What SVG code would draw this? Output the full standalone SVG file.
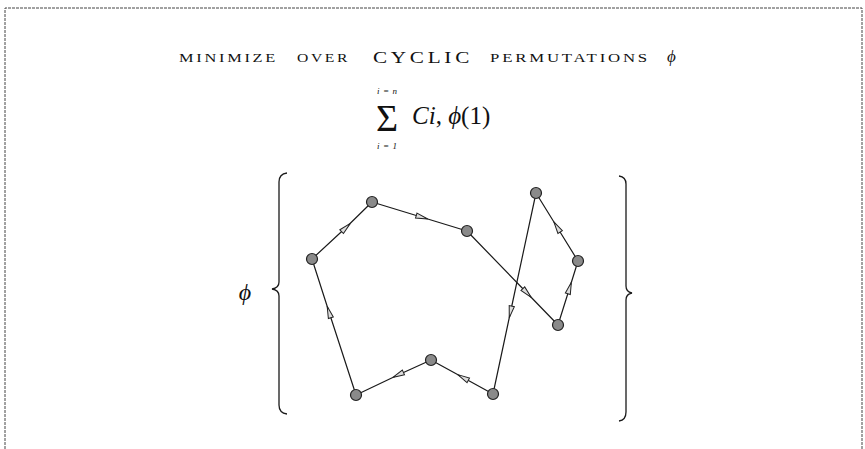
<svg xmlns="http://www.w3.org/2000/svg" width="865" height="449" viewBox="0 0 865 449">
<style>
.t{font-family:"Liberation Serif","DejaVu Serif",serif;fill:#111}
.it{font-style:italic}
.sc{font-size:12px;letter-spacing:2px}
.e{fill:none;stroke:#1a1a1a;stroke-width:1.2;marker-mid:url(#arr)}
.n{fill:#8a8a8a;stroke:#222;stroke-width:1.2}
.br{fill:none;stroke:#1a1a1a;stroke-width:1.3}
.fr{fill:none;stroke:#444;stroke-width:1;stroke-dasharray:3 1}
</style>
<defs>
<marker id="arr" markerUnits="userSpaceOnUse" viewBox="-7 -4 14 8" markerWidth="14" markerHeight="8" orient="auto">
<path d="M-6,-2.6 L6,0 L-6,2.6 Z" fill="#ddd" stroke="#222" stroke-width="1"/>
</marker>
</defs>
<g id="frame">
<path class="fr" d="M5,449 L5,8 L862,8 L862,449"/>
</g>
<g id="title">
<text class="t sc" x="179" y="62" textLength="99" lengthAdjust="spacingAndGlyphs">MINIMIZE</text>
<text class="t sc" x="297" y="62" textLength="53" lengthAdjust="spacingAndGlyphs">OVER</text>
<text class="t" x="373" y="62.5" font-size="17" letter-spacing="3" textLength="100" lengthAdjust="spacingAndGlyphs">CYCLIC</text>
<text class="t sc" x="490" y="62" textLength="160" lengthAdjust="spacingAndGlyphs">PERMUTATIONS</text>
<text class="t it" x="667" y="62" font-size="17">ϕ</text>
</g>
<g id="formula">
<text class="t it" x="377" y="94" font-size="9" textLength="20" lengthAdjust="spacing">i = n</text>
<text class="t" x="376" y="131" font-size="38">Σ</text>
<text class="t it" x="377" y="149" font-size="9" textLength="20" lengthAdjust="spacing">i = 1</text>
<text class="t it" x="412" y="124" font-size="25">Ci<tspan font-style="normal">,</tspan> ϕ<tspan font-style="normal">(1)</tspan></text>
</g>
<g id="phi-label">
<text class="t it" x="245" y="300" font-size="24" text-anchor="middle">ϕ</text>
</g>
<g id="braces">
<path class="br" d="M287,173 Q279,174 279,182 L279,282 Q279,288 272,289 Q279,290 279,296 L279,405 Q279,413 287,414"/>
<path class="br" d="M619,176 Q626,177 626,184 L626,286 Q626,292 632,293 Q626,294 626,300 L626,412 Q626,420 619,421"/>
</g>
<g id="connectors">
<polyline class="e" points="493,394 463,377.5 431,360"/>
<polyline class="e" points="431,360 398,375 356,395"/>
<polyline class="e" points="356,395 329,312 312,259"/>
<polyline class="e" points="312,259 346,227.5 372,202"/>
<polyline class="e" points="372,202 422,217.3 467,231"/>
<polyline class="e" points="467,231 527,293 558,325"/>
<polyline class="e" points="558,325 569.6,288 578,261"/>
<polyline class="e" points="578,261 557,227 536,193"/>
<polyline class="e" points="536,193 510.5,312 493,394"/>
</g>
<g id="nA"><circle class="n" cx="372" cy="202" r="5.5"/></g>
<g id="nB"><circle class="n" cx="467" cy="231" r="5.5"/></g>
<g id="nC"><circle class="n" cx="536" cy="193" r="5.5"/></g>
<g id="nD"><circle class="n" cx="578" cy="261" r="5.5"/></g>
<g id="nE"><circle class="n" cx="558" cy="325" r="5.5"/></g>
<g id="nF"><circle class="n" cx="312" cy="259" r="5.5"/></g>
<g id="nG"><circle class="n" cx="356" cy="395" r="5.5"/></g>
<g id="nH"><circle class="n" cx="431" cy="360" r="5.5"/></g>
<g id="nI"><circle class="n" cx="493" cy="394" r="5.5"/></g>
</svg>
